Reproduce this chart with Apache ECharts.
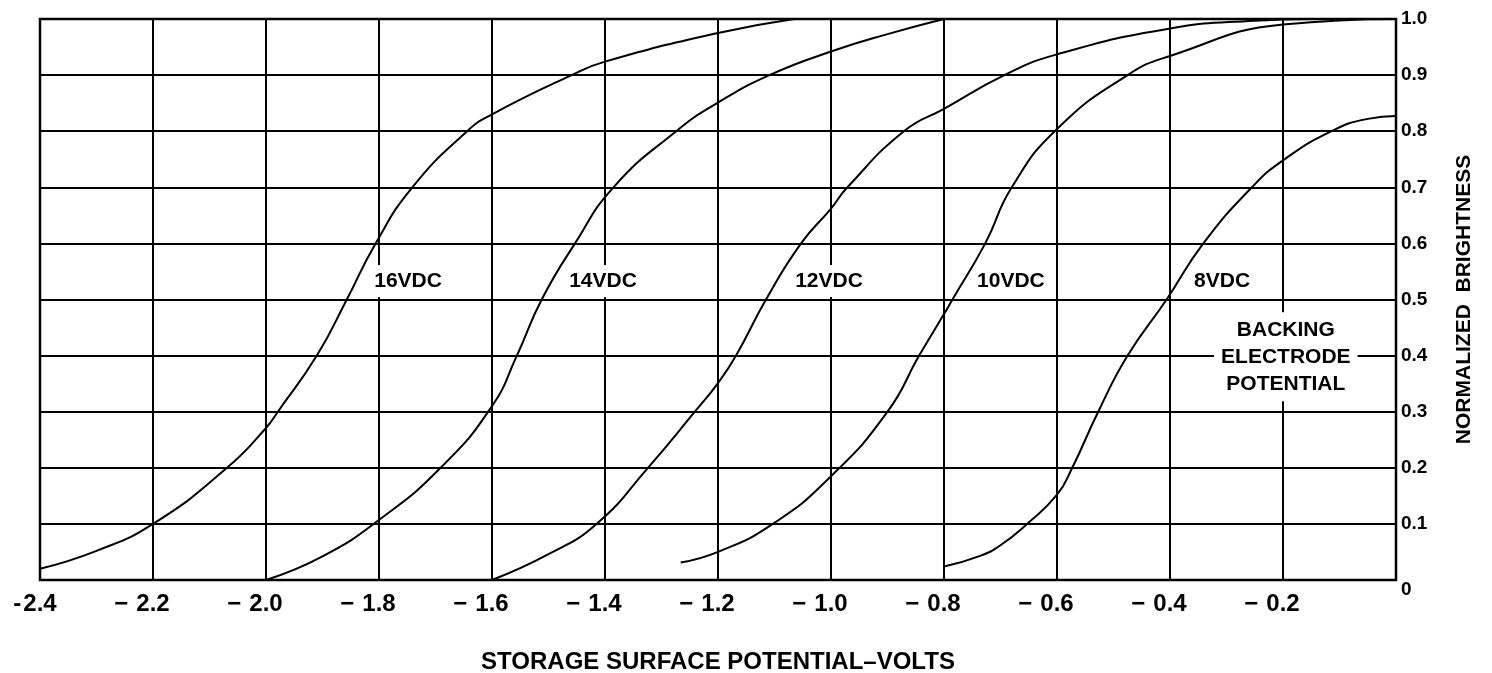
<!DOCTYPE html>
<html>
<head>
<meta charset="utf-8">
<script src="https://cdn.jsdelivr.net/npm/echarts@6/dist/echarts.min.js"></script>
<style>
html,body{margin:0;padding:0;background:#fff;}
#chart{width:1492px;height:673px;}
</style>
</head>
<body>
<div id="chart"></div>
<script>
// ---- data (x = storage surface potential, volts; y = normalized brightness) ----
const curveNames = ['16VDC', '14VDC', '12VDC', '10VDC', '8VDC'];

const v16 = [[-2.4,0.02],[-2.3,0.052],[-2.2,0.1],[-2.069,0.2],[-2.0,0.271],[-1.979,0.3],[-1.91,0.4],[-1.857,0.5],
  [-1.806,0.6],[-1.741,0.7],[-1.644,0.8],[-1.6,0.83],[-1.459,0.9],[-1.4,0.924],[-1.2,0.975],[-1.065,1.0]];
const v14 = [[-2.0,0.0],[-1.9,0.042],[-1.8,0.107],[-1.691,0.2],[-1.6,0.31],[-1.556,0.4],[-1.512,0.5],
  [-1.453,0.6],[-1.385,0.7],[-1.274,0.8],[-1.2,0.851],[-1.109,0.9],[-1.0,0.942],[-0.9,0.973],[-0.8,1.0]];
const v12 = [[-1.6,0.0],[-1.5,0.046],[-1.415,0.1],[-1.324,0.2],[-1.241,0.3],[-1.2,0.351],[-1.168,0.4],
  [-1.115,0.5],[-1.053,0.6],[-1.0,0.662],[-0.971,0.7],[-0.871,0.8],[-0.8,0.84],[-0.693,0.9],[-0.6,0.937],
  [-0.4,0.983],[-0.25,0.997],[-0.15,1.0]];
const v10 = [[-1.266,0.031],[-1.2,0.05],[-1.103,0.1],[-1.0,0.185],[-0.9,0.3],[-0.844,0.4],[-0.8,0.474],
  [-0.785,0.5],[-0.727,0.6],[-0.68,0.7],[-0.6,0.804],[-0.475,0.9],[-0.4,0.934],[-0.2,0.99],[0.0,1.0]];
const v8 = [[-0.8,0.024],[-0.736,0.043],[-0.7,0.062],[-0.653,0.1],[-0.6,0.152],[-0.573,0.2],[-0.527,0.3],
  [-0.475,0.4],[-0.406,0.5],[-0.341,0.6],[-0.255,0.7],[-0.2,0.748],[-0.114,0.8],[-0.05,0.822],[0.0,0.827]];
const curveData = [v16, v14, v12, v10, v8];

const xTickValues = [-2.4,-2.2,-2.0,-1.8,-1.6,-1.4,-1.2,-1.0,-0.8,-0.6,-0.4,-0.2];
const xTickNumbers = ['2.4','2.2','2.0','1.8','1.6','1.4','1.2','1.0','0.8','0.6','0.4','0.2'];
const yTickLabels = ['0','0.1','0.2','0.3','0.4','0.5','0.6','0.7','0.8','0.9','1.0'];

const xAxisTitle = 'STORAGE SURFACE POTENTIAL\u2013VOLTS';
const yAxisTitle = 'NORMALIZED  BRIGHTNESS';
const noteText = 'BACKING\nELECTRODE\nPOTENTIAL';

// ---- chart ----
const FONT = '"Liberation Sans", Arial, sans-serif';
const chart = echarts.init(document.getElementById('chart'), null, {renderer: 'canvas'});

function xLabel(v) {
  const r = Math.round(v * 10) / 10;
  const i = xTickValues.findIndex(t => Math.abs(t - r) < 1e-6);
  if (i < 0) return '';
  if (i === 0) return '{s|-}{n|' + xTickNumbers[i] + '}{ps| }';
  return '{d|\u2212}{n|' + xTickNumbers[i] + '}{pd| }';
}
function yLabel(v) {
  const i = Math.round(v * 10);
  if (i === 0) return '{z|' + yTickLabels[0] + '}';
  return yTickLabels[i] || '';
}

const lineSeries = curveNames.map((name, k) => ({
  name: name,
  type: 'line',
  data: curveData[k],
  smooth: 0.5,
  showSymbol: false,
  symbol: 'none',
  z: 3,
  lineStyle: {color: '#000', width: 2},
  silent: true
}));

const labelStyle = {
  show: true,
  color: '#000',
  opacity: 1,
  fontFamily: FONT,
  fontWeight: 'bold',
  fontSize: 21,
  backgroundColor: '#fff',
  padding: [6, 2, 5, 2]
};

const curveLabelAt = [-1.812, -1.467, -1.067, -0.745, -0.361];

const option = {
  animation: false,
  backgroundColor: '#fff',
  grid: {
    left: 40, right: 96, top: 19, bottom: 93,
    containLabel: false, outerBoundsMode: 'none',
    show: true, borderColor: '#000', borderWidth: 2.5, z: 2
  },
  xAxis: {
    type: 'value', min: -2.4, max: 0, interval: 0.2,
    axisLine: {show: false}, axisTick: {show: false},
    splitLine: {show: true, lineStyle: {color: '#000', width: 2}},
    axisLabel: {
      show: true, margin: 12, color: '#000', fontFamily: FONT, fontWeight: 'bold', fontSize: 24,
      showMinLabel: true, showMaxLabel: true,
      formatter: xLabel,
      rich: {
        s: {fontFamily: FONT, fontWeight: 'bold', fontSize: 24, width: 12, align: 'right'},
        ps: {fontSize: 24, width: 12},
        d: {fontFamily: FONT, fontWeight: 'bold', fontSize: 24, width: 22, align: 'left'},
        pd: {fontSize: 24, width: 22},
        n: {fontFamily: FONT, fontWeight: 'bold', fontSize: 24}
      }
    },
    name: xAxisTitle, nameLocation: 'middle', nameGap: 70,
    nameTextStyle: {color: '#000', fontFamily: FONT, fontWeight: 'bold', fontSize: 24}
  },
  yAxis: {
    type: 'value', min: 0, max: 1, interval: 0.1, position: 'right',
    axisLine: {show: false}, axisTick: {show: false},
    splitLine: {show: true, lineStyle: {color: '#000', width: 2}},
    axisLabel: {
      show: true, margin: 5, color: '#000', fontFamily: FONT, fontWeight: 'bold', fontSize: 19,
      showMinLabel: true, showMaxLabel: true,
      formatter: yLabel,
      rich: {z: {fontFamily: FONT, fontWeight: 'bold', fontSize: 19, padding: [20, 0, 0, 0]}}
    },
    name: yAxisTitle, nameLocation: 'middle', nameRotate: 90, nameGap: 58,
    nameTextStyle: {color: '#000', fontFamily: FONT, fontWeight: 'bold', fontSize: 21}
  },
  series: lineSeries.concat([
    {
      name: 'curve labels',
      type: 'scatter',
      z: 2,
      silent: true,
      symbolSize: 0,
      itemStyle: {opacity: 1},
      emphasis: {disabled: true},
      data: curveNames.map((n, k) => ({value: [curveLabelAt[k], 0.533], name: n})),
      label: Object.assign({}, labelStyle, {position: 'right', distance: 0, formatter: p => p.name})
    },
    {
      name: 'note',
      type: 'scatter',
      z: 2,
      silent: true,
      symbolSize: 0,
      itemStyle: {opacity: 1},
      emphasis: {disabled: true},
      data: [{value: [-0.195, 0.398], name: noteText}],
      label: Object.assign({}, labelStyle, {
        position: 'inside', align: 'center', verticalAlign: 'middle',
        lineHeight: 27, fontSize: 21, padding: [5, 7, 3, 7], formatter: p => p.name
      })
    }
  ])
};
chart.setOption(option);
</script>
</body>
</html>
